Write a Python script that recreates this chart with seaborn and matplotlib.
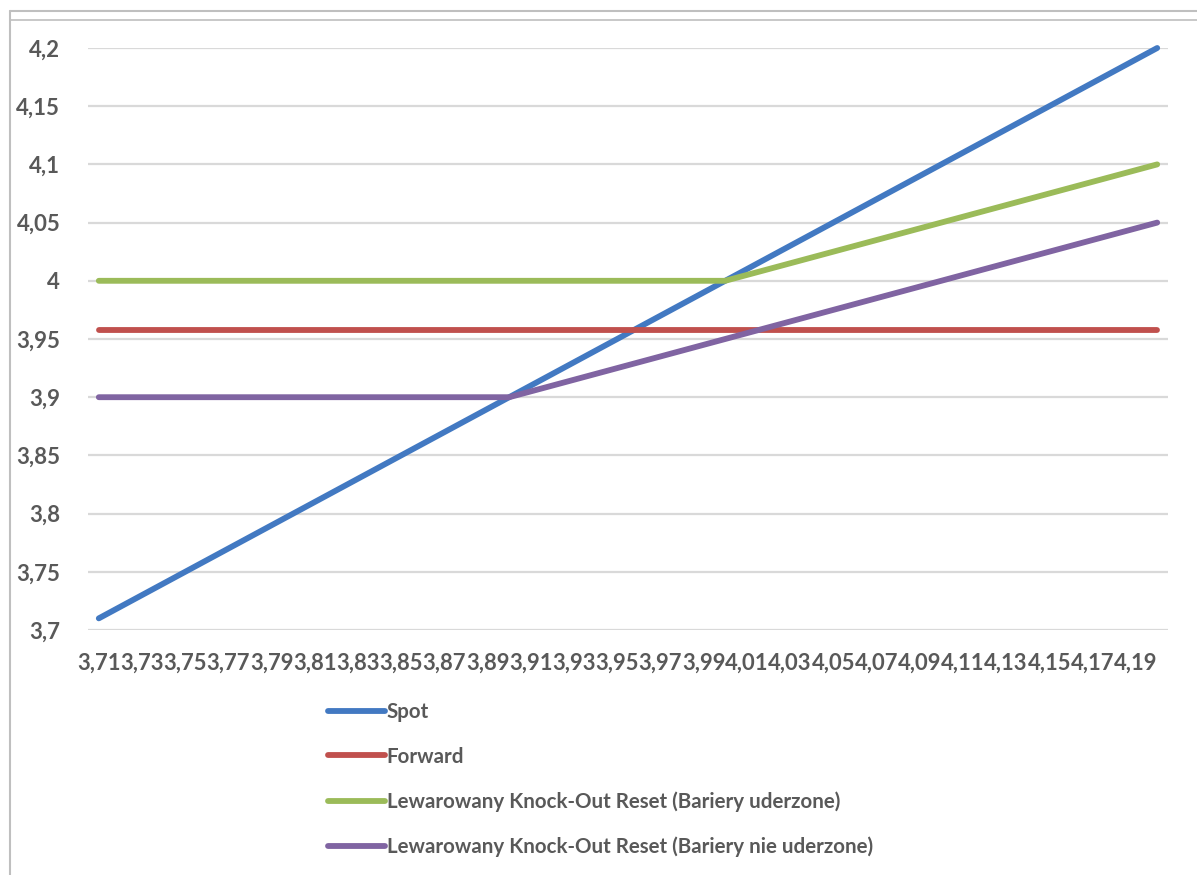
import matplotlib
matplotlib.use("Agg")
import matplotlib.pyplot as plt
import seaborn as sns
import numpy as np
import pandas as pd
from matplotlib.lines import Line2D

# Exchange-rate scenarios (category axis) and payoff of each strategy
categories = [
    "3,71", "3,72", "3,73", "3,74", "3,75", "3,76", "3,77", "3,78", "3,79", "3,8",
    "3,81", "3,82", "3,83", "3,84", "3,85", "3,86", "3,87", "3,88", "3,89", "3,9",
    "3,91", "3,92", "3,93", "3,94", "3,95", "3,96", "3,97", "3,98", "3,99", "4",
    "4,01", "4,02", "4,03", "4,04", "4,05", "4,06", "4,07", "4,08", "4,09", "4,1",
    "4,11", "4,12", "4,13", "4,14", "4,15", "4,16", "4,17", "4,18", "4,19", "4,2",
]
spot = [
    3.71, 3.72, 3.73, 3.74, 3.75, 3.76, 3.77, 3.78, 3.79, 3.80,
    3.81, 3.82, 3.83, 3.84, 3.85, 3.86, 3.87, 3.88, 3.89, 3.90,
    3.91, 3.92, 3.93, 3.94, 3.95, 3.96, 3.97, 3.98, 3.99, 4.00,
    4.01, 4.02, 4.03, 4.04, 4.05, 4.06, 4.07, 4.08, 4.09, 4.10,
    4.11, 4.12, 4.13, 4.14, 4.15, 4.16, 4.17, 4.18, 4.19, 4.20,
]
forward = [
    3.9577, 3.9577, 3.9577, 3.9577, 3.9577, 3.9577, 3.9577, 3.9577, 3.9577, 3.9577,
    3.9577, 3.9577, 3.9577, 3.9577, 3.9577, 3.9577, 3.9577, 3.9577, 3.9577, 3.9577,
    3.9577, 3.9577, 3.9577, 3.9577, 3.9577, 3.9577, 3.9577, 3.9577, 3.9577, 3.9577,
    3.9577, 3.9577, 3.9577, 3.9577, 3.9577, 3.9577, 3.9577, 3.9577, 3.9577, 3.9577,
    3.9577, 3.9577, 3.9577, 3.9577, 3.9577, 3.9577, 3.9577, 3.9577, 3.9577, 3.9577,
]
ko_hit = [
    4.000, 4.000, 4.000, 4.000, 4.000, 4.000, 4.000, 4.000, 4.000, 4.000,
    4.000, 4.000, 4.000, 4.000, 4.000, 4.000, 4.000, 4.000, 4.000, 4.000,
    4.000, 4.000, 4.000, 4.000, 4.000, 4.000, 4.000, 4.000, 4.000, 4.000,
    4.005, 4.010, 4.015, 4.020, 4.025, 4.030, 4.035, 4.040, 4.045, 4.050,
    4.055, 4.060, 4.065, 4.070, 4.075, 4.080, 4.085, 4.090, 4.095, 4.100,
]
ko_not_hit = [
    3.900, 3.900, 3.900, 3.900, 3.900, 3.900, 3.900, 3.900, 3.900, 3.900,
    3.900, 3.900, 3.900, 3.900, 3.900, 3.900, 3.900, 3.900, 3.900, 3.900,
    3.905, 3.910, 3.915, 3.920, 3.925, 3.930, 3.935, 3.940, 3.945, 3.950,
    3.955, 3.960, 3.965, 3.970, 3.975, 3.980, 3.985, 3.990, 3.995, 4.000,
    4.005, 4.010, 4.015, 4.020, 4.025, 4.030, 4.035, 4.040, 4.045, 4.050,
]
series_names = [
    "Spot",
    "Forward",
    "Lewarowany Knock-Out Reset (Bariery uderzone)",
    "Lewarowany Knock-Out Reset (Bariery nie uderzone)",
]
y_ticks = [3.7, 3.75, 3.8, 3.85, 3.9, 3.95, 4.0, 4.05, 4.1, 4.15, 4.2]
y_tick_labels = ["3,7", "3,75", "3,8", "3,85", "3,9", "3,95", "4", "4,05", "4,1", "4,15", "4,2"]

colors = ["#4279C2", "#C0504D", "#9BBB59", "#8064A2"]
text_color = "#595959"
grid_color = "#D9D9D9"

sns.set_theme(style="white")
plt.rcParams["font.family"] = ["Lato", "DejaVu Sans"]
plt.rcParams["font.weight"] = "bold"

W, H = 1197, 875
fig = plt.figure(figsize=(W / 100, H / 100), dpi=100)
fig.patch.set_facecolor("white")

# plot area in pixel terms
left_px, right_px, top_px, bottom_px = 88, 1168, 48, 630
ax = fig.add_axes([left_px / W, 1 - bottom_px / H,
                   (right_px - left_px) / W, (bottom_px - top_px) / H])

pos = np.arange(len(categories))
frame = pd.DataFrame({
    "pos": np.tile(pos, 4),
    "value": np.concatenate([spot, forward, ko_hit, ko_not_hit]),
    "series": np.repeat(series_names, len(categories)),
})

line_w = 4.2
sns.lineplot(data=frame, x="pos", y="value", hue="series",
             hue_order=series_names, palette=colors,
             linewidth=line_w, legend=False, ax=ax, zorder=3)
for ln in ax.lines:
    ln.set_solid_capstyle("round")
    ln.set_clip_on(False)

ax.set_xlim(-0.5, len(categories) - 0.5)
ax.set_ylim(3.7, 4.2)
ax.set_yticks(y_ticks)
ax.set_yticklabels(y_tick_labels)
ax.set_xticks(pos[::2])
ax.set_xticklabels(categories[::2])
ax.set_xlabel("")
ax.set_ylabel("")
ax.yaxis.grid(True, color=grid_color, linewidth=1.6)
ax.xaxis.grid(False)
ax.set_axisbelow(True)
for s in ax.spines.values():
    s.set_visible(False)
ax.tick_params(axis="y", length=0, pad=20, labelsize=16, labelcolor=text_color)
ax.tick_params(axis="x", length=0, pad=16, labelsize=15.8, labelcolor=text_color)
for lab in ax.get_xticklabels() + ax.get_yticklabels():
    lab.set_fontweight("bold")

# legend stacked below the plot
handles = [Line2D([0], [0], color=c, linewidth=line_w, solid_capstyle="round") for c in colors]
leg = fig.legend(handles, series_names, loc="upper left",
                 bbox_to_anchor=(328 / W, 1 - 702 / H),
                 frameon=False, borderaxespad=0, borderpad=0,
                 handlelength=2.75, handletextpad=0.1, labelspacing=1.2,
                 prop={"family": ["Lato", "DejaVu Sans"], "weight": "bold", "size": 14.8})
for t in leg.get_texts():
    t.set_color(text_color)

# chart border
border = "#BFBFBF"
fig.add_artist(Line2D([10 / W, 1], [1 - 11 / H, 1 - 11 / H], color=border, linewidth=1.5))
fig.add_artist(Line2D([10 / W, 1], [1 - 20 / H, 1 - 20 / H], color=border, linewidth=1.2))
fig.add_artist(Line2D([10 / W, 10 / W], [0, 1 - 11 / H], color=border, linewidth=1.5))

fig.savefig("out.png", dpi=100, facecolor="white")
